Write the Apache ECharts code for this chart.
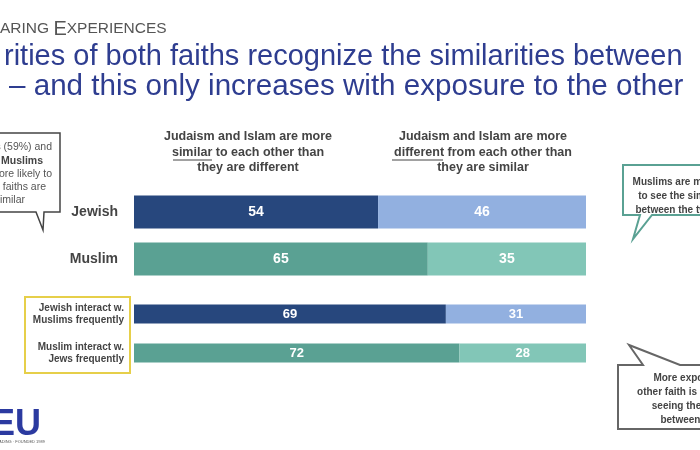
<!DOCTYPE html>
<html><head><meta charset="utf-8">
<script src="https://cdn.jsdelivr.net/npm/echarts@6/dist/echarts.min.js"></script>
<style>html,body{margin:0;padding:0;background:#fff}#c{width:700px;height:450px}</style>
</head><body><div id="c"></div>
<script>
// ---- data ----
const faithCats = ['Jewish', 'Muslim'];
const faithSimilar = [54, 65];
const faithDifferent = [46, 35];
const interactCats = ['Jewish interact w.\nMuslims frequently', 'Muslim interact w.\nJews frequently'];
const interactSimilar = [69, 72];
const interactDifferent = [31, 28];
const header1 = ['Judaism and Islam are more', 'similar', ' to each other than', 'they are different'];
const header2 = ['Judaism and Islam are more', 'different', ' from each other than', 'they are similar'];

// ---- styles ----
const darkCols = ['#27477d', '#5aa193'];
const lightCols = ['#92b0e0', '#82c6b7'];
const gray = '#444';
const FONT = 'Liberation Sans, Arial, sans-serif';

const chart = echarts.init(document.getElementById('c'), null, {renderer: 'canvas'});

function mk(vals, cols) { return vals.map((v, i) => ({value: v, itemStyle: {color: cols[i]}})); }

function barLabel(size) {
  return {show: true, position: 'inside', color: '#fff', fontWeight: 'bold', fontSize: size, fontFamily: FONT};
}

const txt = (x, y, text, o) => ({type: 'text', x, y, style: Object.assign({text, font: '12px ' + FONT, fill: gray, textAlign: 'left', textVerticalAlign: 'middle'}, o || {})});

const option = {
  animation: false,
  grid: [
    {left: 134, right: 114, top: 188.5, height: 94},
    {left: 134, right: 114, top: 294.5, height: 78}
  ],
  xAxis: [
    {gridIndex: 0, type: 'value', min: 0, max: 100, show: false},
    {gridIndex: 1, type: 'value', min: 0, max: 100, show: false}
  ],
  yAxis: [
    {gridIndex: 0, type: 'category', data: faithCats, inverse: true, axisLine: {show: false}, axisTick: {show: false},
     axisLabel: {margin: 16, color: gray, fontWeight: 'bold', fontSize: 14, fontFamily: FONT}},
    {gridIndex: 1, type: 'category', data: interactCats, inverse: true, axisLine: {show: false}, axisTick: {show: false},
     axisLabel: {margin: 10, color: gray, fontWeight: 'bold', fontSize: 10, lineHeight: 12, fontFamily: FONT, align: 'right'}}
  ],
  series: [
    {type: 'bar', xAxisIndex: 0, yAxisIndex: 0, stack: 'a', barWidth: 33, data: mk(faithSimilar, darkCols), label: barLabel(14)},
    {type: 'bar', xAxisIndex: 0, yAxisIndex: 0, stack: 'a', barWidth: 33, data: mk(faithDifferent, lightCols), label: barLabel(14)},
    {type: 'bar', xAxisIndex: 1, yAxisIndex: 1, stack: 'b', barWidth: 19, data: mk(interactSimilar, darkCols), label: barLabel(13)},
    {type: 'bar', xAxisIndex: 1, yAxisIndex: 1, stack: 'b', barWidth: 19, data: mk(interactDifferent, lightCols), label: barLabel(13)}
  ],
  graphic: [
    // title
    {type: 'text', x: 0, y: 29, style: {
      text: '{s|ARING }{b|E}{s|XPERIENCES}', textVerticalAlign: 'middle',
      rich: {s: {fontSize: 15.5, fontFamily: FONT, fill: '#555'}, b: {fontSize: 20, fontFamily: FONT, fill: '#555'}}}},
    txt(4, 57, 'rities of both faiths recognize the similarities between', {font: '29px ' + FONT, fill: '#2e3d90'}),
    txt(9, 87, '– and this only increases with exposure to the other', {font: '29.6px ' + FONT, fill: '#2e3d90'}),
    // column headers
    txt(248, 137, header1[0], {font: 'bold 12.5px ' + FONT, textAlign: 'center'}),
    txt(248, 153, header1[1] + header1[2], {font: 'bold 12.5px ' + FONT, textAlign: 'center'}),
    txt(248, 168, header1[3], {font: 'bold 12.5px ' + FONT, textAlign: 'center'}),
    {type: 'line', shape: {x1: 173, y1: 160, x2: 212, y2: 160}, style: {stroke: gray, lineWidth: 1}},
    txt(483, 137, header2[0], {font: 'bold 12.5px ' + FONT, textAlign: 'center'}),
    txt(483, 153, header2[1] + header2[2], {font: 'bold 12.5px ' + FONT, textAlign: 'center'}),
    txt(483, 168, header2[3], {font: 'bold 12.5px ' + FONT, textAlign: 'center'}),
    {type: 'line', shape: {x1: 392, y1: 160, x2: 443, y2: 160}, style: {stroke: gray, lineWidth: 1}},
    // yellow box
    {type: 'rect', shape: {x: 25, y: 297, width: 105, height: 76}, style: {fill: 'none', stroke: '#e6cf4a', lineWidth: 2}},
    // left callout
    {type: 'polygon', shape: {points: [[-60, 133], [60, 133], [60, 212], [44, 212], [43, 230], [36, 212], [-60, 212]]},
     style: {fill: '#fff', stroke: '#444', lineWidth: 1.5}},
    txt(52, 147, 'Jews (59%) and', {font: '10.5px ' + FONT, fill: '#555', textAlign: 'right'}),
    txt(43, 161, 'Muslims', {font: 'bold 10.5px ' + FONT, fill: '#444', textAlign: 'right'}),
    txt(52, 174, 'more likely to', {font: '10.5px ' + FONT, fill: '#555', textAlign: 'right'}),
    txt(46, 187, 'the faiths are', {font: '10.5px ' + FONT, fill: '#555', textAlign: 'right'}),
    txt(25, 200, 'similar', {font: '10.5px ' + FONT, fill: '#555', textAlign: 'right'}),
    // right callout 1
    {type: 'polygon', shape: {points: [[623, 165], [760, 165], [760, 215], [652, 215], [633, 239], [640, 215], [623, 215]]},
     style: {fill: '#fff', stroke: '#5aa193', lineWidth: 2}},
    txt(689, 182, 'Muslims are more likely', {font: 'bold 10px ' + FONT, textAlign: 'center'}),
    txt(689, 196, 'to see the similarities', {font: 'bold 10px ' + FONT, textAlign: 'center'}),
    txt(689, 210, 'between the two faiths', {font: 'bold 10px ' + FONT, textAlign: 'center'}),
    // right callout 2
    {type: 'polygon', shape: {points: [[618, 365], [643, 365], [629, 345], [680, 365], [760, 365], [760, 429], [618, 429]]},
     style: {fill: '#fff', stroke: '#666', lineWidth: 2}},
    txt(704, 378, 'More exposure to the', {font: 'bold 10px ' + FONT, textAlign: 'center'}),
    txt(704, 392, 'other faith is correlated with', {font: 'bold 10px ' + FONT, textAlign: 'center'}),
    txt(704, 406, 'seeing the similarities', {font: 'bold 10px ' + FONT, textAlign: 'center'}),
    txt(704, 420, 'between the faiths', {font: 'bold 10px ' + FONT, textAlign: 'center'}),
    // logo
    txt(41, 425, 'EU', {font: 'bold 36px ' + FONT, fill: '#2b3aa0', textAlign: 'right'}),
    txt(45, 442, 'LEADING · FOUNDED 1989', {font: '4px ' + FONT, fill: '#555', textAlign: 'right'})
  ]
};
chart.setOption(option);
</script></body></html>
